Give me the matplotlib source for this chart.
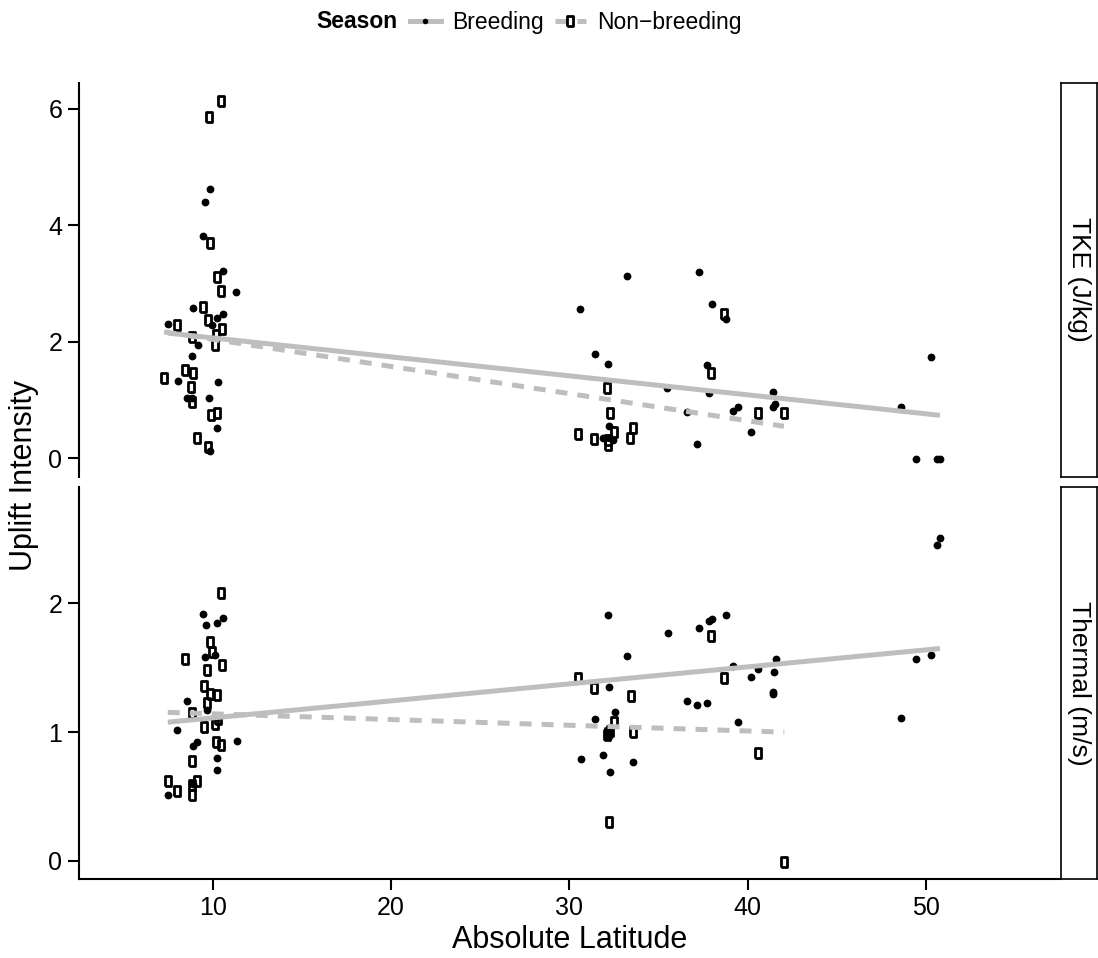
import matplotlib.pyplot as plt
import numpy as np
from matplotlib.lines import Line2D

plt.rcParams['font.family'] = ['Liberation Sans', 'DejaVu Sans']

# TKE (J/kg) panel
tke_breed_lat = [9.85, 9.57, 9.46, 10.58, 11.31, 8.90, 10.58, 10.24, 7.49, 9.96,
                 9.17, 8.84, 8.05, 10.30, 8.56, 8.84, 9.79, 10.24, 9.85,
                 33.24, 37.27, 30.60, 38.00, 38.80, 31.44, 32.17, 37.72, 35.50,
                 37.83, 41.43, 39.46, 39.18, 41.54, 41.43, 36.60, 40.19, 37.16,
                 32.23, 31.89, 32.28, 32.45,
                 50.29, 48.60, 49.44, 50.62, 50.79]
tke_breed_val = [4.62, 4.40, 3.82, 3.21, 2.85, 2.58, 2.48, 2.41, 2.31, 2.29,
                 1.95, 1.76, 1.33, 1.31, 1.04, 1.04, 1.04, 0.52, 0.13,
                 3.13, 3.20, 2.56, 2.65, 2.39, 1.79, 1.62, 1.60, 1.21,
                 1.12, 1.14, 0.88, 0.81, 0.93, 0.88, 0.80, 0.45, 0.25,
                 0.56, 0.35, 0.35, 0.31,
                 1.74, 0.88, -0.01, -0.01, -0.01]
tke_non_lat = [10.47, 9.79, 9.85, 10.24, 10.47, 9.46, 9.74, 8.00, 10.52, 10.19,
               8.84, 10.13, 7.27, 8.45, 8.90, 8.78, 8.84, 9.90, 10.24, 9.12, 9.74,
               38.68, 37.95, 32.11, 32.28, 40.58, 42.04, 30.49, 31.38, 32.50,
               33.57, 33.40, 32.17, 32.17]
tke_non_val = [6.14, 5.86, 3.69, 3.11, 2.87, 2.60, 2.38, 2.29, 2.22, 2.12,
               2.08, 1.95, 1.38, 1.52, 1.46, 1.22, 0.97, 0.74, 0.78, 0.35, 0.19,
               2.48, 1.47, 1.21, 0.78, 0.78, 0.78, 0.42, 0.33, 0.45,
               0.52, 0.35, 0.31, 0.23]

# Thermal (m/s) panel
thermal_breed_lat = [9.47, 10.59, 9.62, 10.22, 9.57, 10.13, 8.54, 9.66, 8.01, 11.35,
                     9.14, 8.91, 10.22, 10.26, 7.48, 8.91,
                     32.19, 35.55, 37.27, 37.85, 38.02, 38.79, 33.22, 39.20, 40.60,
                     41.59, 41.50, 40.21, 41.44, 41.41, 32.24, 36.58, 37.15, 37.74,
                     39.44, 32.58, 31.46, 30.64, 31.87, 33.57, 32.30, 32.10,
                     50.79, 50.64, 49.44, 50.29, 48.60]
thermal_breed_val = [1.92, 1.89, 1.83, 1.85, 1.58, 1.60, 1.24, 1.17, 1.02, 0.93,
                     0.92, 0.89, 0.80, 0.71, 0.51, 0.60,
                     1.91, 1.77, 1.81, 1.86, 1.88, 1.91, 1.59, 1.51, 1.49,
                     1.57, 1.47, 1.43, 1.31, 1.30, 1.35, 1.24, 1.21, 1.23,
                     1.08, 1.16, 1.10, 0.79, 0.82, 0.77, 0.69, 0.99,
                     2.51, 2.45, 1.57, 1.60, 1.11]
thermal_non_lat = [10.45, 8.46, 9.85, 9.96, 9.68, 10.50, 9.51, 9.85, 10.22, 9.68,
                   8.82, 9.51, 10.13, 10.30, 10.19, 10.45, 8.84, 7.48, 8.00, 9.10,
                   8.82, 8.82,
                   37.95, 30.50, 31.39, 38.69, 33.44, 32.51, 32.19, 32.10, 32.28,
                   33.56, 40.60, 32.24, 42.06]
thermal_non_val = [2.08, 1.57, 1.70, 1.62, 1.48, 1.52, 1.36, 1.30, 1.29, 1.23,
                   1.15, 1.04, 1.06, 1.10, 0.92, 0.90, 0.78, 0.62, 0.54, 0.62,
                   0.59, 0.51,
                   1.75, 1.42, 1.34, 1.42, 1.28, 1.08, 0.99, 0.98, 1.01,
                   1.00, 0.84, 0.30, -0.01]

# linear fits (intercept, slope) per panel and season
tke_fit = {'Breeding': (2.394, -0.0326), 'Non-breeding': (2.509, -0.0466)}
thermal_fit = {'Breeding': (0.979, 0.0132), 'Non-breeding': (1.187, -0.00444)}

panels = [
    ('TKE (J/kg)', tke_breed_lat, tke_breed_val, tke_non_lat, tke_non_val, tke_fit,
     (-0.316, 6.45), [0, 2, 4, 6]),
    ('Thermal (m/s)', thermal_breed_lat, thermal_breed_val, thermal_non_lat,
     thermal_non_val, thermal_fit, (-0.14, 2.906), [0, 1, 2]),
]

W, H = 1098, 958
fig = plt.figure(figsize=(W / 100, H / 100), dpi=100)

grey = '#BEBEBE'
rect_marker = [(-0.24, -0.5), (0.24, -0.5), (0.24, 0.5), (-0.24, 0.5), (-0.24, -0.5)]
dash = (0, (2.4, 2.0))

left, right = 79, 1061
boxes = [(82.7, 476.7), (486.7, 879)]

for i, (strip, b_lat, b_val, n_lat, n_val, fit, ylim, yticks) in enumerate(panels):
    top, bot = boxes[i]
    ax = fig.add_axes([left / W, 1 - bot / H, (right - left) / W, (bot - top) / H])

    ax.plot(b_lat, b_val, 'o', ms=4.6, color='black', zorder=2)
    ax.plot(n_lat, n_val, linestyle='none', marker=rect_marker, ms=7.6, mfc='none',
            mec='black', mew=2.0, zorder=2)

    for season, lat, ls in [('Breeding', b_lat, '-'), ('Non-breeding', n_lat, dash)]:
        a, b = fit[season]
        xs = np.array([min(lat), max(lat)])
        ax.plot(xs, a + b * xs, color=grey, lw=3.6, linestyle=ls, zorder=3,
                solid_capstyle='butt', dash_capstyle='butt')

    ax.set_xlim(2.5, 57.58)
    ax.set_ylim(*ylim)
    ax.set_yticks(yticks)
    for s in ['top', 'right']:
        ax.spines[s].set_visible(False)
    ax.spines['left'].set_linewidth(1.5)
    ax.spines['bottom'].set_linewidth(1.5)
    ax.tick_params(length=8, width=1.5, labelsize=18, pad=4, color='black')
    if i == 0:
        ax.spines['bottom'].set_visible(False)
        ax.tick_params(axis='x', bottom=False, labelbottom=False)
    else:
        ax.set_xticks([10, 20, 30, 40, 50])

    # facet strip on the right
    sx = fig.add_axes([1061 / W, 1 - bot / H, 36 / W, (bot - top) / H])
    sx.set_xticks([])
    sx.set_yticks([])
    for s in sx.spines.values():
        s.set_linewidth(1.2)
    sx.text(0.5, 0.5, strip, rotation=270, ha='center', va='center', fontsize=19,
            transform=sx.transAxes)

fig.text(24 / W, 1 - 475 / H, 'Uplift Intensity', rotation=90, ha='center',
         va='center', fontsize=22)
fig.text(570 / W, 1 - 940 / H, 'Absolute Latitude', ha='center', va='center',
         fontsize=22)

# legend across the top
fig.text(357 / W, 1 - 22 / H, 'Season', ha='center', va='center', fontsize=16.5,
         fontweight='bold')
handles = [
    Line2D([], [], color=grey, lw=3.6, marker='o', ms=3, mfc='black', mec='black'),
    Line2D([], [], color=grey, lw=3.6, linestyle=dash, marker=rect_marker, ms=7.6,
           mfc='white', mec='black', mew=2.0),
]
fig.legend(handles, ['Breeding', 'Non\u2212breeding'], loc='center left',
           bbox_to_anchor=(410 / W, 1 - 23 / H), ncol=2, frameon=False,
           fontsize=16.5, handlelength=1.35, handletextpad=0.48, columnspacing=0.5,
           borderpad=0, borderaxespad=0)

fig.savefig('out.png', dpi=100)
